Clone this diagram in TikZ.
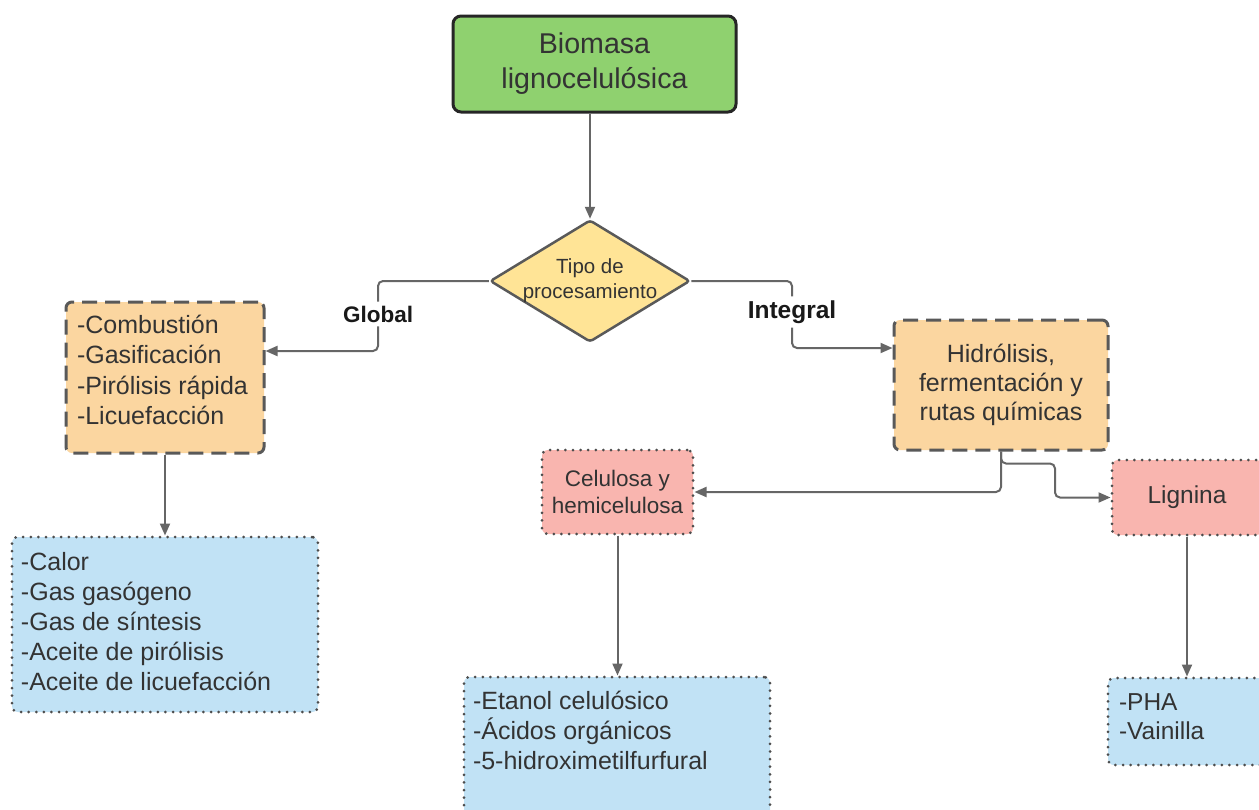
\documentclass[tikz,border=0pt]{standalone}
\usepackage{fontspec}
\setmainfont{Liberation Sans}
\usetikzlibrary{shapes.geometric,arrows.meta}
\definecolor{cgreen}{HTML}{8FD16F}
\definecolor{cyellow}{HTML}{FFE496}
\definecolor{corange}{HTML}{FBD6A0}
\definecolor{cpink}{HTML}{F9B5AF}
\definecolor{cblue}{HTML}{C1E2F5}
\definecolor{cline}{HTML}{666666}
\definecolor{cborder}{HTML}{595959}
\definecolor{cdots}{HTML}{4D4D4D}
\definecolor{ctext}{HTML}{333333}
\newcommand\TopTxt[5]{\parbox[c][#2][t]{#1}{\raggedright\leftskip=#4\relax\vspace*{#3}\rule{0pt}{0.95em}#5}}
\begin{document}
\begin{tikzpicture}[x=1pt,y=-1pt,
 base/.style={inner sep=0pt, text=ctext},
 biobox/.style={base, align=center, draw=black!85, line width=3pt, fill=cgreen, rounded corners=8pt, minimum width=283pt, minimum height=96pt, font=\fontsize{28.6}{35}\selectfont},
 decision/.style={base, diamond, draw=cborder, line width=2.5pt, fill=cyellow, minimum width=200pt, minimum height=122pt, rounded corners=3pt},
 procbox/.style={base, draw=cborder, line width=3pt, dash pattern=on 15pt off 8pt, fill=corange, rounded corners=6pt},
 fracbox/.style={base, draw=cdots, line width=3pt, dash pattern=on 0pt off 7.6pt, line cap=round, fill=cpink, rounded corners=6pt},
 prodbox/.style={fracbox, fill=cblue},
 conn/.style={draw=cline, line width=2pt, rounded corners=5pt},
 arr/.style={conn, -{Triangle[length=12pt,width=10pt]}},
 lab/.style={inner sep=4pt, text=black!90},
]
\fill[white] (0,0) rectangle (1259,809);
\useasboundingbox (0,0) rectangle (1259,809);

\node[biobox] (bio) at (594.5,64) {Biomasa\\lignocelulósica};
\node[decision] (tipo) at (590,281) {};
\node[base, align=center, font=\fontsize{20.5}{25}\selectfont] (tipotxt) at (tipo.center) {Tipo de\\procesamiento};

\node[procbox, font=\fontsize{25}{30.5}\selectfont] (comb) at (165,377.5)
  {\TopTxt{198pt}{151pt}{7.25pt}{11pt}{-Combustión\\-Gasificación\\-Pirólisis rápida\\-Licuefacción}};
\node[prodbox, font=\fontsize{25}{30}\selectfont] (prod1) at (165,624.5)
  {\TopTxt{306pt}{175pt}{9.25pt}{9pt}{-Calor\\-Gas gasógeno\\-Gas de síntesis\\-Aceite de pirólisis\\-Aceite de licuefacción}};

\node[procbox, align=center, minimum width=214pt, minimum height=130pt, font=\fontsize{25}{29}\selectfont] (hid) at (1001,385)
  {Hidrólisis,\\fermentación y\\rutas químicas};
\node[fracbox, align=center, minimum width=151pt, minimum height=84pt, font=\fontsize{22.5}{27}\selectfont] (cel) at (617.5,492)
  {Celulosa y\\hemicelulosa};
\node[fracbox, minimum width=150pt, minimum height=75pt, font=\fontsize{24.5}{29}\selectfont] (lig) at (1187,497.5) {Lignina};

\node[prodbox, font=\fontsize{25}{30}\selectfont] (prod2) at (617,757)
  {\TopTxt{306pt}{160pt}{8.25pt}{9pt}{-Etanol celulósico\\-Ácidos orgánicos\\-5-hidroximetilfurfural}};
\node[prodbox, font=\fontsize{24.5}{28.5}\selectfont] (prod3) at (1188,721.5)
  {\TopTxt{160pt}{87pt}{9.25pt}{11pt}{-PHA\\-Vainilla}};

\node[lab, font=\bfseries\fontsize{22.5}{27}\selectfont] (glob) at (378,314) {Global};
\node[lab, font=\bfseries\fontsize{24.5}{29}\selectfont] (integ) at (792,312) {Integral};

\draw[arr] (bio.south -| tipo.north) -- (tipo.north);
\draw[conn] (tipo.west) -| (glob.north);
\draw[arr] (glob.south) |- ([yshift=26.5pt]comb.east);
\draw[conn] (tipo.east) -| (integ.north);
\draw[arr] (integ.south) |- ([yshift=37pt]hid.west);
\draw[arr] (comb.south) -- (prod1.north);
\draw[arr] (hid.south) |- (cel.east);
\draw[arr] (hid.south) -- ++(0,12) -- ++(54,0) |- (lig.west);
\draw[arr] (cel.south) -- (cel.south |- prod2.north);
\draw[arr] (lig.south) -- (lig.south |- prod3.north);
\end{tikzpicture}
\end{document}
